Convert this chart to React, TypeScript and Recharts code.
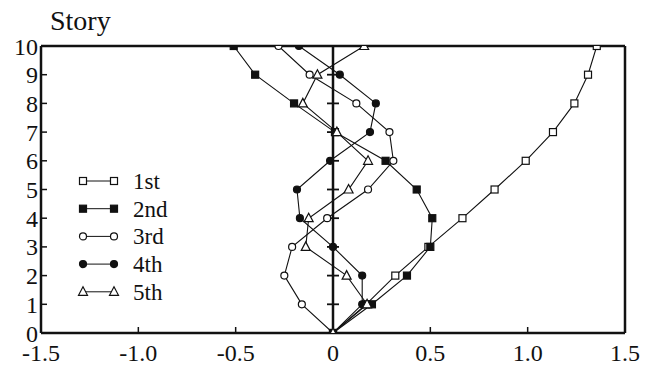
import { ReferenceLine, Scatter, ScatterChart, XAxis, YAxis } from 'recharts'

const STORIES = [0, 1, 2, 3, 4, 5, 6, 7, 8, 9, 10]

// horizontal displacement of each mode shape, story 0 -> 10
const MODE_1ST = [0, 0.17, 0.32, 0.49, 0.665, 0.83, 0.99, 1.13, 1.24, 1.31, 1.355]
const MODE_2ND = [0, 0.2, 0.38, 0.5, 0.51, 0.43, 0.27, 0.01, -0.2, -0.4, -0.51]
const MODE_3RD = [0, -0.16, -0.25, -0.21, -0.03, 0.18, 0.31, 0.29, 0.12, -0.12, -0.28]
const MODE_4TH = [0, 0.15, 0.15, 0.0, -0.17, -0.185, -0.015, 0.19, 0.22, 0.035, -0.175]
const MODE_5TH = [0, 0.175, 0.07, -0.14, -0.125, 0.08, 0.18, 0.02, -0.155, -0.08, 0.16]

const X_TICKS = [-1.5, -1.0, -0.5, 0, 0.5, 1.0, 1.5]
const Y_TICKS = [0, 1, 2, 3, 4, 5, 6, 7, 8, 9, 10]
const ZERO_LINE_MARKS = [1, 2, 3, 4, 5, 6, 7, 8, 9]

const FONT = '"Liberation Serif", "Times New Roman", serif'
const INK = '#111'

type Marker = 'square' | 'circle' | 'triangle'

const SERIES: { name: string; values: number[]; marker: Marker; filled: boolean }[] = [
  { name: '1st', values: MODE_1ST, marker: 'square', filled: false },
  { name: '2nd', values: MODE_2ND, marker: 'square', filled: true },
  { name: '3rd', values: MODE_3RD, marker: 'circle', filled: false },
  { name: '4th', values: MODE_4TH, marker: 'circle', filled: true },
  { name: '5th', values: MODE_5TH, marker: 'triangle', filled: false },
]

const toPoints = (values: number[]) => values.map((x, i) => ({ x, y: STORIES[i] }))

function drawMarker(marker: Marker, filled: boolean, cx: number, cy: number) {
  const fill = filled ? INK : '#fff'
  if (marker === 'square') {
    return <rect x={cx - 3.5} y={cy - 3.5} width={7} height={7} fill={fill} stroke={INK} strokeWidth={1.2} />
  }
  if (marker === 'circle') {
    return <circle cx={cx} cy={cy} r={3.5} fill={fill} stroke={INK} strokeWidth={1.2} />
  }
  return (
    <polygon
      points={`${cx},${cy - 5} ${cx - 4.5},${cy + 3.5} ${cx + 4.5},${cy + 3.5}`}
      fill={fill}
      stroke={INK}
      strokeWidth={1.2}
    />
  )
}

function LegendBox() {
  return (
    <svg width={110} height={140} style={{ position: 'absolute', left: 79, top: 171, overflow: 'visible' }}>
      {SERIES.map((s, i) => {
        const y = 10 + i * 27.7
        return (
          <g key={s.name}>
            <line x1={4} x2={35} y1={y} y2={y} stroke={INK} strokeWidth={1} />
            {drawMarker(s.marker, s.filled, 4, y)}
            {drawMarker(s.marker, s.filled, 35, y)}
            <text x={54} y={y} dy="0.34em" fontFamily={FONT} fontSize={23} fill={INK}>
              {s.name}
            </text>
          </g>
        )
      })}
    </svg>
  )
}

const fmtX = (v: number) => (v === 0 ? '0' : v.toFixed(1))

export default function App() {
  return (
    <div style={{ position: 'relative', width: 648, height: 369, background: '#fff' }}>
      <style>{'body{margin:0}'}</style>
      <ScatterChart width={648} height={369} margin={{ top: 45, right: 22, left: 0, bottom: 0 }}>
        <XAxis
          xAxisId="b"
          type="number"
          dataKey="x"
          domain={[-1.5, 1.5]}
          ticks={X_TICKS}
          tickFormatter={fmtX}
          height={36}
          axisLine={{ stroke: INK, strokeWidth: 2.5 }}
          tickLine={{ stroke: INK, strokeWidth: 1.5 }}
          tickSize={-6}
          tickMargin={17}
          tick={{ fill: INK, fontFamily: FONT, fontSize: 24 }}
          allowDataOverflow
        />
        <XAxis
          xAxisId="t"
          orientation="top"
          type="number"
          dataKey="x"
          domain={[-1.5, 1.5]}
          ticks={X_TICKS}
          height={1}
          axisLine={{ stroke: INK, strokeWidth: 2.5 }}
          tickLine={{ stroke: INK, strokeWidth: 1.5 }}
          tickSize={-6}
          tick={false}
          allowDataOverflow
        />
        <YAxis
          yAxisId="l"
          type="number"
          dataKey="y"
          domain={[0, 10]}
          ticks={Y_TICKS}
          width={41}
          interval={0}
          axisLine={{ stroke: INK, strokeWidth: 2.5 }}
          tickLine={{ stroke: INK, strokeWidth: 1.5 }}
          tickSize={-6}
          tickMargin={9}
          tick={{ fill: INK, fontFamily: FONT, fontSize: 24 }}
          allowDataOverflow
        />
        <YAxis
          yAxisId="r"
          orientation="right"
          type="number"
          dataKey="y"
          domain={[0, 10]}
          ticks={Y_TICKS}
          width={1}
          axisLine={{ stroke: INK, strokeWidth: 2.5 }}
          tickLine={{ stroke: INK, strokeWidth: 1.5 }}
          tickSize={-6}
          tick={false}
          allowDataOverflow
        />
        <ReferenceLine xAxisId="b" yAxisId="l" x={0} stroke={INK} strokeWidth={2.5} />
        <Scatter
          xAxisId="b"
          yAxisId="l"
          data={ZERO_LINE_MARKS.map((y) => ({ x: 0, y }))}
          isAnimationActive={false}
          shape={(p: any) => <line x1={p.cx - 6} x2={p.cx + 6} y1={p.cy} y2={p.cy} stroke={INK} strokeWidth={1.8} />}
        />
        {SERIES.map((s) => (
          <Scatter
            key={s.name}
            name={s.name}
            xAxisId="b"
            yAxisId="l"
            data={toPoints(s.values)}
            line={{ stroke: INK, strokeWidth: 1.1 }}
            isAnimationActive={false}
            shape={(p: any) => drawMarker(s.marker, s.filled, p.cx, p.cy)}
          />
        ))}
      </ScatterChart>
      <div
        style={{
          position: 'absolute',
          left: 50,
          top: 4,
          fontFamily: FONT,
          fontSize: 28,
          color: INK,
          lineHeight: '34px',
        }}
      >
        Story
      </div>
      <LegendBox />
    </div>
  )
}
